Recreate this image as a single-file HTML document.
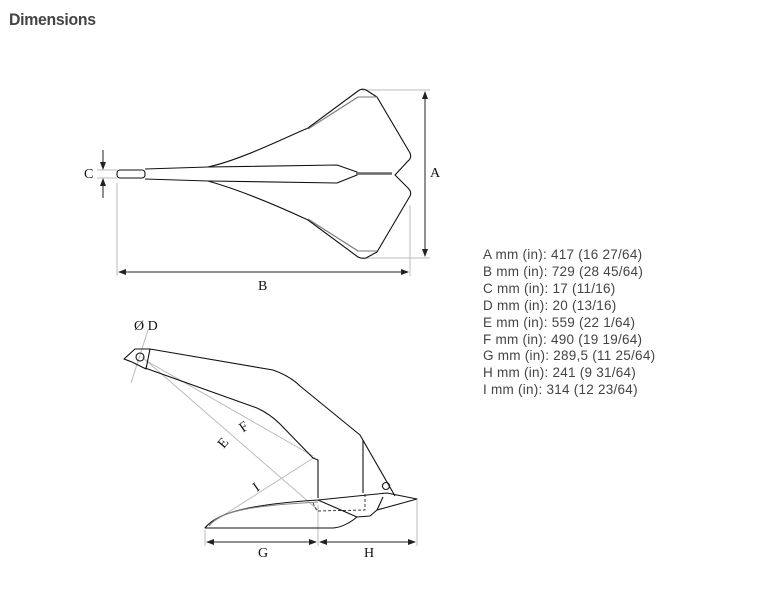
<!DOCTYPE html>
<html><head><style>
body{margin:0;background:#fff;width:765px;height:597px;overflow:hidden;position:relative;font-family:"Liberation Sans",sans-serif}
.t{position:absolute;left:9px;top:10px;font-size:17px;font-weight:bold;color:#444;letter-spacing:-0.3px;transform:scaleX(0.93);transform-origin:left}
.d{position:absolute;left:483px;top:247px;font-size:13.5px;line-height:16.9px;color:#444;letter-spacing:0.25px}
svg{position:absolute;left:0;top:0}
</style></head><body>
<div class="t">Dimensions</div>
<div class="d">A mm (in): 417 (16 27/64)<br>B mm (in): 729 (28 45/64)<br>C mm (in): 17 (11/16)<br>D mm (in): 20 (13/16)<br>E mm (in): 559 (22 1/64)<br>F mm (in): 490 (19 19/64)<br>G mm (in): 289,5 (11 25/64)<br>H mm (in): 241 (9 31/64)<br>I mm (in): 314 (12 23/64)</div>
<svg width="765" height="597" viewBox="0 0 765 597">
<defs><marker id="ar" markerWidth="8" markerHeight="6" refX="7" refY="3" orient="auto-start-reverse" markerUnits="userSpaceOnUse"><path d="M0,0 L8,3 L0,6z" fill="#222"/></marker></defs>
<g fill="none" stroke="#bbb" stroke-width="1">
<line x1="362" y1="90" x2="430" y2="90"/><line x1="362" y1="258" x2="430" y2="258"/>
<line x1="117" y1="183" x2="117" y2="276"/><line x1="410" y1="205" x2="410" y2="276"/>
<line x1="97" y1="170" x2="117" y2="170"/><line x1="97" y1="178" x2="117" y2="178"/>
<line x1="205" y1="530" x2="205" y2="546"/><line x1="318" y1="505" x2="318" y2="546"/><line x1="417" y1="500" x2="417" y2="546"/>
<line x1="142" y1="357" x2="318" y2="510"/><line x1="145" y1="360" x2="313" y2="456"/><line x1="205" y1="527" x2="315" y2="457"/>
<line x1="131" y1="383" x2="148" y2="330"/>
</g>
<g stroke="#222" stroke-width="1" fill="none">
<line x1="425" y1="92" x2="425" y2="256" marker-start="url(#ar)" marker-end="url(#ar)"/>
<line x1="119" y1="272" x2="408" y2="272" marker-start="url(#ar)" marker-end="url(#ar)"/>
<line x1="103" y1="150" x2="103" y2="169" marker-end="url(#ar)"/>
<line x1="103" y1="198" x2="103" y2="179" marker-end="url(#ar)"/>
<line x1="207" y1="542" x2="316" y2="542" marker-start="url(#ar)" marker-end="url(#ar)"/>
<line x1="320" y1="542" x2="415" y2="542" marker-start="url(#ar)" marker-end="url(#ar)"/>
</g>
<g stroke="#111" stroke-width="1.1" fill="none" stroke-linejoin="round">
<rect x="117" y="170" width="28" height="8" rx="3"/>
<path d="M145,169 L208,167 L337,165 L357,172 L357,175 L337,183 L208,181 L145,179"/>
<path d="M208,167 C240,160 280,140 308,128 L358,91 Q362,88 366,90 L377,97 L410,153 Q412,158 408,161 L395,175 L408,188 Q412,192 410,196 L377,252 L366,258 Q362,259 358,257 L308,220 C280,207 240,190 208,181"/>
<path d="M308,129 L358,97 L377,97" stroke="#777"/>
<path d="M308,219 L358,251 L377,251" stroke="#777"/>
<line x1="357" y1="173.5" x2="392" y2="173.5" stroke="#666" stroke-width="2.5"/>
<path d="M150,349 L273,370 Q290,376 300,386 L360,435 L395,496"/>
<path d="M124,359 L135,349 L150,349 L146,369 L132,362 Z"/>
<circle cx="140" cy="357" r="4"/>
<path d="M145,368 L257,408 Q270,414 280,424 L313,458 L318,460 L318,498"/>
<line x1="363" y1="440" x2="363" y2="493"/>
<path d="M205,528 C215,515 240,505 318,500 L387,493 L417,499 L377,510 L370,516 L357,517 Q345,527 333,528 Z"/>
<path d="M209,526 C220,512 245,506 318,502" stroke="#888"/>
<path d="M318,500 L357,517"/>
<path d="M383,497 L377,510"/>
<circle cx="386" cy="486" r="3.5"/>
<path d="M313,503 L317,511 L365,510 L365,493" stroke-dasharray="3,2" stroke-width="0.8"/>
</g>
<g font-family="Liberation Serif,serif" font-size="14" fill="#111">
<text x="84" y="178">C</text><text x="430" y="177">A</text><text x="258" y="290">B</text>
<text x="134" y="330">Ø D</text>
<text x="258" y="557">G</text><text x="364" y="557">H</text>
<text x="218" y="447" transform="rotate(-50 223 442)">E</text>
<text x="240" y="431" transform="rotate(-35 244 427)">F</text>
<text x="253" y="490" transform="rotate(-35 258 485)">I</text>
</g>
</svg>
</body></html>
